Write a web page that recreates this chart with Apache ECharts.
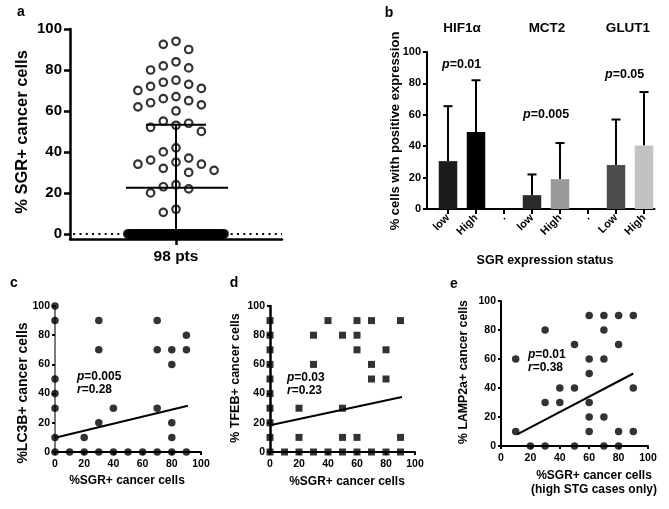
<!DOCTYPE html>
<html><head><meta charset="utf-8">
<script src="https://cdn.jsdelivr.net/npm/echarts@6/dist/echarts.min.js"></script>
<style>html,body{margin:0;padding:0;background:#fff}#chart{width:669px;height:509px}</style>
</head><body><div id="chart"></div>
<script>
// ---------- DATA ----------
// Panel a: % SGR+ cancer cells per patient (98 pts)
const sgrValues = [94, 92.5, 90, 84, 82, 81, 80, 75, 74, 73, 72, 71, 70, 67, 66, 65, 64, 63, 62, 60,
  55, 54, 53, 52, 50, 42, 40, 37, 36, 35, 34, 34, 32, 31, 30, 24, 23, 22, 20, 12, 10.5,
  0, 0, 0, 0, 0, 0, 0, 0, 0, 0, 0, 0, 0, 0, 0, 0, 0, 0, 0, 0,
  0, 0, 0, 0, 0, 0, 0, 0, 0, 0, 0, 0, 0, 0, 0, 0, 0, 0, 0, 0,
  0, 0, 0, 0, 0, 0, 0, 0, 0, 0, 0, 0, 0, 0, 0, 0, 0];
const aYTicks = [0, 20, 40, 60, 80, 100];

// Panel b
const bCategories = ['low', 'High', '.', 'low', 'High', '.', 'Low', 'High'];
const bGroups = ['HIF1α', 'MCT2', 'GLUT1'];
const bMeans = [30.5, 49, null, 8.8, 19, null, 28, 40.5];
const bSD = [35, 33, null, 13.2, 23, null, 29, 34];
const bPValues = ['0.01', '0.005', '0.05'];
const bColors = ['#1c1c1c', '#000000', null, '#2b2b2b', '#999999', null, '#4d4d4d', '#c2c2c2'];

// Panel c: LC3B vs SGR
const cX = [0, 0, 0, 0, 0, 0, 0, 10, 20, 20, 30, 30, 30, 30, 40, 40, 50, 60, 70, 70, 70, 70, 80, 80, 80, 80, 80, 90, 90, 90];
const cY = [100, 90, 50, 40, 30, 10, 0, 0, 10, 0, 90, 70, 20, 0, 30, 0, 0, 0, 90, 70, 30, 0, 70, 60, 20, 10, 0, 80, 70, 0];
const cFitX = [0, 91];
const cFitY = [9.8, 31.7];
const cStats = {p: '0.005', r: '0.28'};

// Panel d: TFEB vs SGR
const dX = [0, 0, 0, 0, 0, 0, 0, 0, 0, 0, 10, 20, 20, 20, 30, 30, 30, 40, 40, 50, 50, 50, 50,
  60, 60, 60, 60, 60, 70, 70, 70, 70, 80, 80, 80, 90, 90, 90];
const dY = [90, 80, 70, 60, 50, 40, 30, 20, 10, 0, 0, 30, 10, 0, 80, 60, 0, 90, 0, 80, 30, 10, 0,
  90, 80, 70, 10, 0, 90, 60, 50, 0, 70, 50, 0, 90, 10, 0];
const dFitX = [0, 91];
const dFitY = [18.3, 37.7];
const dStats = {p: '0.03', r: '0.23'};

// Panel e: LAMP2a vs SGR (high STG only)
const eX = [10, 10, 20, 30, 30, 30, 40, 40, 50, 50, 50, 60, 60, 60, 60, 60, 60, 70, 70, 70, 70, 70, 80, 80, 80, 80, 90, 90, 90];
const eY = [60, 10, 0, 80, 30, 0, 40, 30, 70, 40, 0, 90, 60, 50, 30, 20, 10, 90, 80, 60, 20, 0, 90, 70, 10, 0, 90, 40, 10];
const eFitX = [11, 90];
const eFitY = [8, 50];
const eStats = {p: '0.01', r: '0.38'};

// ---------- LAYOUT ----------
const FONT = '"Liberation Sans", Arial, sans-serif';
const gridA = {left: 70, top: 29, width: 212, height: 210};
const aYMin = -2.5, aYMax = 100, aXMin = -1, aXMax = 1;
const pxPerX = gridA.width / (aXMax - aXMin);
const pxPerY = gridA.height / (aYMax - aYMin);

// beeswarm offsets (pixel space) for non-zero values
function swarm(vals) {
  const STEP = 6.35, W = 12.7, H = 13.5, placed = [], out = [];
  vals.filter(v => v !== 0).slice().sort((a, b) => b - a).forEach(v => {
    const py = v * pxPerY;
    let chosen = 0;
    for (let k = 0; k < 200; k++) {
      const cand = (k % 2 === 1 ? -1 : 1) * Math.ceil(k / 2) * STEP;
      const hit = placed.some(p => Math.abs(cand - p.x) < W - 0.01 && Math.abs(py - p.y) < H);
      if (!hit) { chosen = cand; break; }
    }
    placed.push({x: chosen, y: py});
    out.push([chosen / pxPerX, v]);
  });
  return out;
}
// zero values spread evenly in a band
function zeroBand(vals) {
  const zeros = vals.filter(v => v === 0), n0 = zeros.length, half = 48;
  return zeros.map((v, i) => [(n0 > 1 ? -half + i * (2 * half) / (n0 - 1) : 0) / pxPerX, v]);
}
const aPoints = swarm(sgrValues);
const aZeros = zeroBand(sgrValues);
const aMean = sgrValues.reduce((s, v) => s + v, 0) / sgrValues.length;
const aSD = Math.sqrt(sgrValues.reduce((s, v) => s + (v - aMean) * (v - aMean), 0) / (sgrValues.length - 1));

const zip = (xs, ys) => xs.map((x, i) => [x, ys[i]]);

function valAxis(grid, opts) {
  return Object.assign({
    gridIndex: grid, type: 'value', min: 0, max: 100, interval: 20,
    axisLine: {show: true, onZero: false, lineStyle: {color: '#000', width: 2}},
    axisTick: {show: true, length: 3, lineStyle: {color: '#000', width: 2}},
    axisLabel: {fontFamily: FONT, fontWeight: 'bold', fontSize: 10.5, color: '#000', margin: 5},
    splitLine: {show: false}
  }, opts || {});
}
const xLab = {fontFamily: FONT, fontWeight: 'bold', fontSize: 10.5, color: '#000', margin: 7};

const chart = echarts.init(document.getElementById('chart'), null, {renderer: 'canvas'});

const bBarData = [];
bMeans.forEach((m, i) => { if (m !== null) bBarData.push([i, m, bSD[i], i]); });

const boldText = (x, y, text, size, extra) => Object.assign({
  type: 'text', x: x, y: y,
  style: {text: text, fontFamily: FONT, fontWeight: 'bold', fontSize: size, fill: '#000',
    align: 'center', verticalAlign: 'middle'}
}, extra || {});
const statText = (x, y, letter, val, size) => ({
  type: 'text', x: x, y: y,
  style: {
    text: '{i|' + letter + '}=' + val, fontFamily: FONT, fontWeight: 'bold', fontSize: size, fill: '#000',
    align: 'left', verticalAlign: 'middle',
    rich: {i: {fontFamily: FONT, fontWeight: 'bold', fontStyle: 'italic', fontSize: size, fill: '#000'}}
  }
});

const option = {
  animation: false,
  backgroundColor: '#fff',
  grid: [
    gridA,
    {left: 427, top: 52, width: 227.5, height: 157},
    {left: 55, top: 306, width: 146, height: 146},
    {left: 270, top: 306, width: 145, height: 146},
    {left: 501, top: 301, width: 147, height: 145}
  ],
  xAxis: [
    {gridIndex: 0, type: 'value', min: aXMin, max: aXMax,
      axisLine: {show: true, onZero: false, lineStyle: {color: '#000', width: 2.5}},
      axisTick: {show: true, customValues: [0], length: 6, lineStyle: {color: '#000', width: 2.5}},
      axisLabel: {customValues: [0], formatter: () => sgrValues.length + ' pts', fontFamily: FONT,
        fontWeight: 'bold', fontSize: 15.5, color: '#000', margin: 10},
      splitLine: {show: false}},
    {gridIndex: 1, type: 'value', min: -0.75, max: 7.375,
      axisLine: {show: true, onZero: false, lineStyle: {color: '#000', width: 2}},
      axisTick: {show: true, customValues: bCategories.map((c, i) => i), length: 5, lineStyle: {color: '#000', width: 2}},
      axisLabel: {customValues: bCategories.map((c, i) => i), formatter: v => bCategories[Math.round(v)],
        rotate: 45, fontFamily: FONT, fontWeight: 'bold', fontSize: 11, color: '#000', margin: 7},
      splitLine: {show: false}},
    valAxis(2, {axisLabel: xLab}),
    valAxis(3, {axisLabel: xLab}),
    valAxis(4, {axisLabel: xLab})
  ],
  yAxis: [
    {gridIndex: 0, type: 'value', min: aYMin, max: aYMax,
      axisLine: {show: true, onZero: false, lineStyle: {color: '#000', width: 2.5}},
      axisTick: {show: true, customValues: aYTicks, length: 6, lineStyle: {color: '#000', width: 2.5}},
      axisLabel: {customValues: aYTicks, fontFamily: FONT, fontWeight: 'bold', fontSize: 15, color: '#000', margin: 8},
      splitLine: {show: false}},
    {gridIndex: 1, type: 'value', min: 0, max: 100, interval: 20,
      axisLine: {show: true, onZero: false, lineStyle: {color: '#000', width: 2}},
      axisTick: {show: true, length: 4, lineStyle: {color: '#000', width: 2}},
      axisLabel: {fontFamily: FONT, fontWeight: 'bold', fontSize: 11, color: '#000', margin: 6},
      splitLine: {show: false}},
    valAxis(2, {axisLine: {show: true, onZero: false, lineStyle: {color: '#7a7a7a', width: 2}}}),
    valAxis(3, {axisLine: {show: true, onZero: false, lineStyle: {color: '#000', width: 2.5}}}),
    valAxis(4)
  ],
  series: [
    // panel a
    {type: 'line', xAxisIndex: 0, yAxisIndex: 0, data: [[aXMin + 0.03, 0], [aXMax, 0]], symbol: 'none',
      lineStyle: {color: '#000', width: 2, type: [2, 4.3]}, z: 1, silent: true},
    {type: 'scatter', xAxisIndex: 0, yAxisIndex: 0, data: aZeros, symbol: 'circle', symbolSize: 8, clip: false,
      itemStyle: {color: '#000', borderColor: '#000', borderWidth: 2}, z: 2},
    {type: 'scatter', xAxisIndex: 0, yAxisIndex: 0, data: aPoints, symbol: 'circle', symbolSize: 7.5, clip: false,
      itemStyle: {color: 'rgba(0,0,0,0)', borderColor: '#000', borderWidth: 2.2}, z: 2},
    {type: 'custom', xAxisIndex: 0, yAxisIndex: 0, data: [[0, aMean, aSD]], z: 3, clip: false,
      renderItem: (params, api) => {
        const m = api.value(1), s = api.value(2);
        const c = api.coord([0, m]), t = api.coord([0, m + s]), b = api.coord([0, Math.max(m - s, aYMin)]);
        const st = {stroke: '#000', lineWidth: 2};
        return {type: 'group', children: [
          {type: 'line', shape: {x1: c[0] - 50, y1: c[1], x2: c[0] + 52, y2: c[1]}, style: st},
          {type: 'line', shape: {x1: t[0], y1: t[1], x2: b[0], y2: b[1]}, style: st},
          {type: 'line', shape: {x1: t[0] - 30, y1: t[1], x2: t[0] + 30, y2: t[1]}, style: st}
        ]};
      }},
    // panel b
    {type: 'custom', xAxisIndex: 1, yAxisIndex: 1, data: bBarData, clip: false,
      renderItem: (params, api) => {
        const x = api.value(0), m = api.value(1), s = api.value(2), idx = api.value(3);
        const base = api.coord([x, 0]), top = api.coord([x, m]), err = api.coord([x, m + s]);
        const w = 18.5;
        return {type: 'group', children: [
          {type: 'line', shape: {x1: top[0], y1: top[1], x2: err[0], y2: err[1]}, style: {stroke: '#000', lineWidth: 2}},
          {type: 'line', shape: {x1: err[0] - 4.5, y1: err[1], x2: err[0] + 4.5, y2: err[1]}, style: {stroke: '#000', lineWidth: 2}},
          {type: 'rect', shape: {x: base[0] - w / 2, y: top[1], width: w, height: base[1] - top[1]}, style: {fill: bColors[idx]}}
        ]};
      }},
    // panel c
    {type: 'scatter', xAxisIndex: 2, yAxisIndex: 2, data: zip(cX, cY), symbol: 'circle', symbolSize: 7.5, clip: false,
      itemStyle: {color: '#000'}, z: 3},
    {type: 'line', xAxisIndex: 2, yAxisIndex: 2, data: zip(cFitX, cFitY), symbol: 'none',
      lineStyle: {color: '#000', width: 2}, z: 4},
    // panel d
    {type: 'scatter', xAxisIndex: 3, yAxisIndex: 3, data: zip(dX, dY), symbol: 'rect', symbolSize: 7, clip: false,
      itemStyle: {color: '#000'}, z: 3},
    {type: 'line', xAxisIndex: 3, yAxisIndex: 3, data: zip(dFitX, dFitY), symbol: 'none',
      lineStyle: {color: '#000', width: 2}, z: 4},
    // panel e
    {type: 'scatter', xAxisIndex: 4, yAxisIndex: 4, data: zip(eX, eY), symbol: 'circle', symbolSize: 7.5, clip: false,
      itemStyle: {color: '#000'}, z: 3},
    {type: 'line', xAxisIndex: 4, yAxisIndex: 4, data: zip(eFitX, eFitY), symbol: 'none',
      lineStyle: {color: '#000', width: 2}, z: 4}
  ],
  graphic: [
    boldText(21, 12, 'a', 14),
    boldText(389, 13, 'b', 14),
    boldText(14, 283, 'c', 14),
    boldText(234, 283, 'd', 14),
    boldText(454, 284, 'e', 14),
    boldText(22, 132, '% SGR+ cancer cells', 16.5, {rotation: Math.PI / 2}),
    boldText(395, 131, '% cells with positive expression', 13, {rotation: Math.PI / 2}),
    boldText(462, 28, bGroups[0], 13.5),
    boldText(547, 28, bGroups[1], 13.5),
    boldText(628, 28, bGroups[2], 13.5),
    statText(442, 65, 'p', bPValues[0], 12.5),
    statText(523, 115, 'p', bPValues[1], 12.5),
    statText(605, 75, 'p', bPValues[2], 12.5),
    boldText(545, 261, 'SGR expression status', 12.5),
    boldText(23, 393, '%LC3B+ cancer cells', 14, {rotation: Math.PI / 2}),
    boldText(127, 481, '%SGR+ cancer cells', 12),
    statText(77, 377, 'p', cStats.p, 12),
    statText(77, 390, 'r', cStats.r, 12),
    boldText(236, 378, '% TFEB+ cancer cells', 12.5, {rotation: Math.PI / 2}),
    boldText(347, 482, '%SGR+ cancer cells', 12),
    statText(287, 378, 'p', dStats.p, 12),
    statText(287, 391, 'r', dStats.r, 12),
    boldText(464, 372, '% LAMP2a+ cancer cells', 12.3, {rotation: Math.PI / 2}),
    boldText(594, 476, '%SGR+ cancer cells', 12),
    boldText(594, 490, '(high STG cases only)', 12),
    statText(528, 355, 'p', eStats.p, 12),
    statText(528, 368, 'r', eStats.r, 12)
  ]
};
chart.setOption(option);
</script></body></html>
